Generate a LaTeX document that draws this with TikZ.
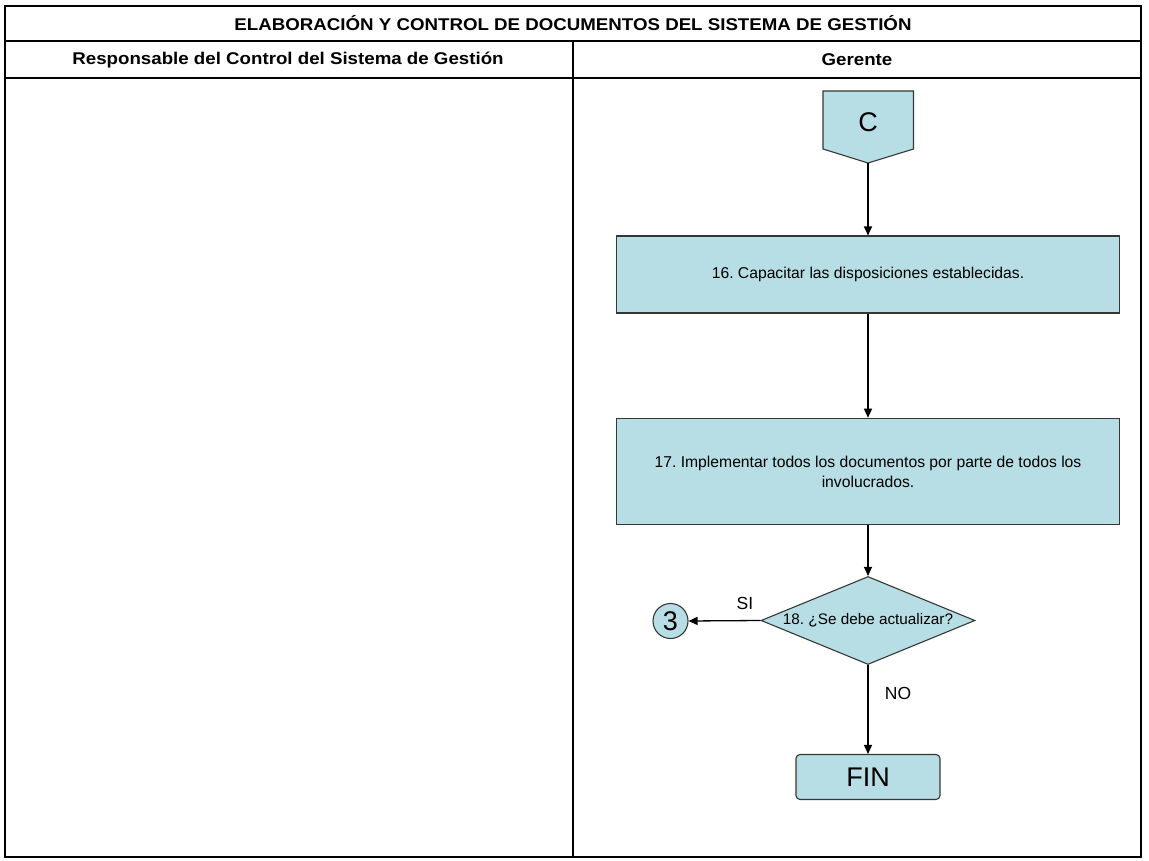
\documentclass[tikz,border=0pt]{standalone}
\usepackage{fontspec}
\setmainfont{Liberation Sans}
\usetikzlibrary{shapes.geometric,arrows.meta}
\frenchspacing
\definecolor{boxfill}{RGB}{183,222,228}
\definecolor{boxline}{RGB}{55,55,55}
\newcommand{\widetext}[1]{\scalebox{1.1}[1]{#1}}
\tikzset{
  frame/.style={line width=2.6pt,draw=black},
  grid/.style={line width=2pt,draw=black},
  procbox/.style={draw=boxline,fill=boxfill,line width=1.1pt,minimum width=503pt,align=center,inner sep=0pt,font=\fontsize{15.7}{20}\selectfont},
  decision/.style={diamond,draw=boxline,fill=boxfill,line width=1.1pt,minimum width=214pt,minimum height=88pt,inner sep=0pt,aspect=2.43,font=\fontsize{15.3}{16}\selectfont},
  connector/.style={circle,draw=boxline,fill=boxfill,line width=1.1pt,minimum size=35pt,inner sep=0pt,font=\fontsize{27}{27}\selectfont},
  terminal/.style={draw=boxline,fill=boxfill,line width=1.1pt,rounded corners=4pt,minimum width=144pt,minimum height=45pt,inner sep=0pt,font=\fontsize{27}{27}\selectfont},
  flow/.style={draw=black,line width=1.3pt,-{Triangle[length=9pt,width=8pt]}},
  lbl/.style={font=\fontsize{17.5}{17.5}\selectfont,inner sep=0pt},
  head/.style={font=\bfseries\fontsize{17}{17}\selectfont,inner sep=0pt}
}
\begin{document}
\begin{tikzpicture}[x=1pt,y=-1pt]
\useasboundingbox (0,0) rectangle (1149,861);
\fill[white] (0,0) rectangle (1149,861);
% table
\draw[grid] (5,41) -- (1141,41);
\draw[grid] (5,78.5) -- (1141,78.5);
\draw[grid] (572.5,41) -- (572.5,857);
\draw[frame] (5,6) rectangle (1141,857);
\node[head] (title) at (573,23.5) {\widetext{ELABORACIÓN Y CONTROL DE DOCUMENTOS DEL SISTEMA DE GESTIÓN}};
\node[head] (lane1) at (288,60) {\widetext{Responsable del Control del Sistema de Gestión}};
\node[head] (lane2) at (857,60) {\widetext{Gerente}};
% off-page connector C
\filldraw[fill=boxfill,draw=boxline,line width=1.1pt] (823,91) -- (913.5,91) -- (913.5,149) -- (868,163) -- (823,149) -- cycle;
\node[font=\fontsize{27}{27}\selectfont,inner sep=0pt] (C) at (868,122) {C};
\coordinate (Ctip) at (868,163);
% process boxes
\node[procbox,minimum height=77pt] (b16) at (868,274.5) {16. Capacitar las disposiciones establecidas.};
\node[procbox,minimum height=106.5pt] (b17) at (868,471.5) {17. Implementar todos los documentos por parte de todos los\\involucrados.};
% decision
\node[decision] (d18) at (868,620.5) {18. ¿Se debe actualizar?};
\node[connector] (c3) at (670.5,621) {3};
\node[terminal] (fin) at (868,777) {FIN};
% flows
\draw[flow] (Ctip) -- (b16.north);
\draw[flow] (b16.south) -- (b17.north);
\draw[flow] (b17.south) -- (d18.north);
\draw[flow] (d18.west) -- (c3.east);
\draw[flow] (d18.south) -- (fin.north);
\node[lbl] (si) at (745,603) {SI};
\node[lbl] (no) at (898,693) {NO};
\end{tikzpicture}
\end{document}
